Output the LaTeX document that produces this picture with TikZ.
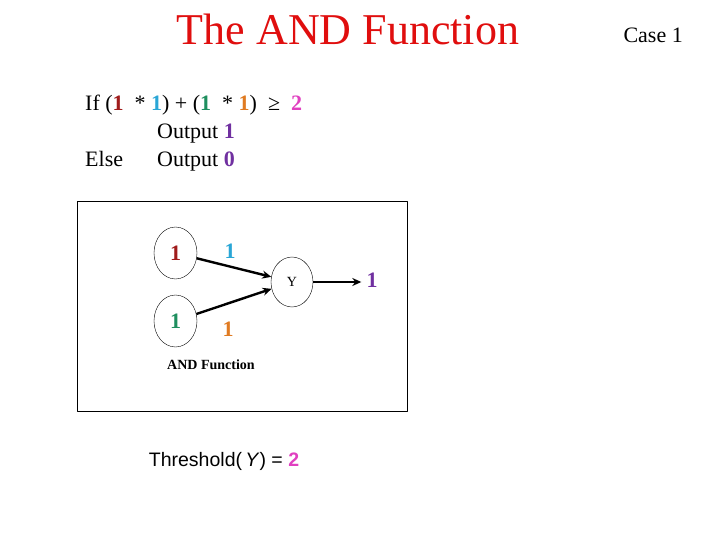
\documentclass[tikz,border=0pt]{standalone}
\usepackage{fontspec}
\setmainfont{Liberation Serif}
\setsansfont{Liberation Sans}
\usepackage{tikz}
\usetikzlibrary{arrows.meta,shapes.geometric}
\definecolor{titlered}{HTML}{E00E0E}
\definecolor{inred}{HTML}{A01C1C}
\definecolor{wcyan}{HTML}{2AA6D6}
\definecolor{ingreen}{HTML}{1F8F5F}
\definecolor{worange}{HTML}{E07B22}
\definecolor{thpink}{HTML}{E040C0}
\definecolor{outpurple}{HTML}{7030A0}
\newcommand{\bignum}[2]{\textcolor{#1}{\textbf{#2}}}
\tikzset{neuron/.style={draw,thin,ellipse,inner sep=0pt,minimum width=43pt,minimum height=52pt},
  numlab/.style={font=\fontsize{22}{24}\selectfont\bfseries,inner sep=1pt},
  wire/.style={line width=2.4pt,-{Stealth[length=9pt,width=8pt]}}}

\begin{document}
\begin{tikzpicture}[x=1pt,y=-1pt,line join=round,font=\fontsize{22}{26}\selectfont]
\useasboundingbox (0,0) rectangle (720,540);
% --- heading
\node[titlered,font=\fontsize{44}{48}\selectfont,anchor=base] (title) at (348,45) {The AND Function};
\node[anchor=base west] (case) at (620,43) {Case 1};
% --- rule
\node[anchor=base west,inner sep=0pt] (ifline) at (85,111) {If (\bignum{inred}{1} ~*~\bignum{wcyan}{1}) + (\bignum{ingreen}{1} ~*~\bignum{worange}{1})~~≥~~\bignum{thpink}{2}};
\node[anchor=base west,inner sep=0pt] (outone) at (157,139) {Output \bignum{outpurple}{1}};
\node[anchor=base west,inner sep=0pt] (else) at (85,167) {Else};
\node[anchor=base west,inner sep=0pt] (outzero) at (157,167) {Output \bignum{outpurple}{0}};
% --- network
\draw[thin] (77,201) rectangle (407,411);
\node[neuron] (inA) at (175.5,253) {}; \node[numlab,inred] at (inA) {1};
\node[neuron] (inB) at (175.5,321) {}; \node[numlab,ingreen] at (inB) {1};
\node[neuron,minimum width=42pt,minimum height=50pt,font=\fontsize{14}{16}\selectfont] (y) at (292,282) {Y};
\node[numlab,outpurple] (out) at (372,280) {1};
\draw[wire] (inA) -- (y);
\draw[wire] (inB) -- (y);
\draw[wire,shorten >=4pt] (y) -- (y -| out.west);
\node[numlab,wcyan] (wA) at (230,251) {1};
\node[numlab,worange] (wB) at (228,329) {1};
\node[font=\fontsize{14}{16}\selectfont\bfseries] (cap) at (211,365) {AND Function};
% --- threshold
\node[font=\sffamily\fontsize{19.5}{22}\selectfont] (thr) at (224,461) {Threshold(\,\textit{Y}) = \bignum{thpink}{2}};
\end{tikzpicture}
\end{document}
